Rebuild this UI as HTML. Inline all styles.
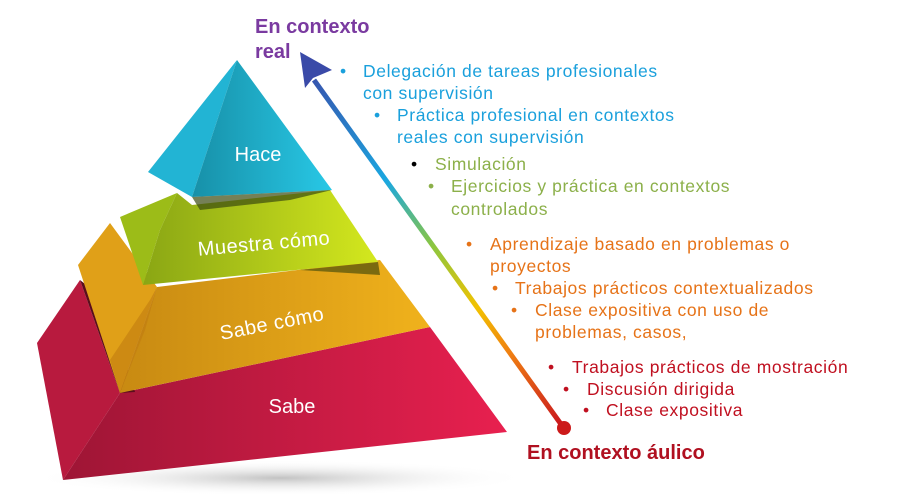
<!DOCTYPE html>
<html><head><meta charset="utf-8"><style>
html,body{margin:0;padding:0;background:#fff;}
svg{display:block;}
text{font-family:"Liberation Sans",sans-serif;}
</style></head><body>
<svg width="907" height="503" viewBox="0 0 907 503" xmlns="http://www.w3.org/2000/svg">
<defs>
<linearGradient id="arr" x1="563" y1="427" x2="303" y2="65" gradientUnits="userSpaceOnUse">
<stop offset="0" stop-color="#c8141e"/><stop offset="0.2" stop-color="#ef7d12"/><stop offset="0.33" stop-color="#f2c200"/><stop offset="0.5" stop-color="#8cc63f"/><stop offset="0.68" stop-color="#1aa7e0"/><stop offset="1" stop-color="#3a4aa8"/>
</linearGradient>
<linearGradient id="red" x1="0" x2="1"><stop offset="0" stop-color="#9e1535"/><stop offset="1" stop-color="#e8204f"/></linearGradient>
<linearGradient id="org" x1="0" x2="1"><stop offset="0" stop-color="#c88a12"/><stop offset="1" stop-color="#f0b21c"/></linearGradient>
<linearGradient id="grn" x1="0" x2="1"><stop offset="0" stop-color="#8aa614"/><stop offset="1" stop-color="#d4e81e"/></linearGradient>
<linearGradient id="blu" x1="0" x2="1"><stop offset="0" stop-color="#1790a8"/><stop offset="1" stop-color="#28c8e6"/></linearGradient>
<radialGradient id="sh" cx="0.5" cy="0.5" r="0.5"><stop offset="0" stop-color="#999" stop-opacity="0.6"/><stop offset="1" stop-color="#fff" stop-opacity="0"/></radialGradient>
</defs>
<ellipse cx="280" cy="478" rx="250" ry="18" fill="url(#sh)"/>
<polygon points="37,343 80,280 120,393 63,480" fill="#b81a3e"/>
<polygon points="120,393 430,327 507,432 63,480" fill="url(#red)"/>
<polygon points="120,393 80,280 105,300 135,392" fill="#5a0d1c"/>
<polygon points="78,265 110,223 157,287 120,393" fill="#e0a018"/>
<polygon points="157,287 380,260 430,327 120,393" fill="url(#org)"/>
<polygon points="120,393 110,360 150,300 157,287 145,330" fill="#c07c10" opacity="0.6"/>
<polygon points="120,217 177,193 160,230 143,285" fill="#9cbc18"/>
<polygon points="177,193 192,205 330,190 378,262 143,285 160,230" fill="url(#grn)"/>
<polygon points="300,270 378,262 380,275" fill="#7a6a10"/>
<polygon points="237,60 148,172 192,197" fill="#22b4d4"/>
<polygon points="237,60 192,197 332,190" fill="url(#blu)"/>
<polygon points="192,197 332,190 290,200 200,210" fill="#3a4a10" opacity="0.7"/>
<text x="258" y="161" fill="#fff" font-size="20" text-anchor="middle">Hace</text>
<text x="264" y="250" fill="#fff" font-size="20" letter-spacing="0.5" text-anchor="middle" transform="rotate(-5 264 244)">Muestra cómo</text>
<text x="272" y="330" fill="#fff" font-size="20" letter-spacing="0.5" text-anchor="middle" transform="rotate(-11 272 324)">Sabe cómo</text>
<text x="292" y="413" fill="#fff" font-size="20" text-anchor="middle">Sabe</text>
<line x1="563" y1="427" x2="314" y2="80" stroke="url(#arr)" stroke-width="5"/>
<polygon points="300,52 332,70 313,78 305,88" fill="#3a4aa8"/>
<circle cx="564" cy="428" r="7" fill="#cc1a1a"/>
<text x="255" y="33" fill="#7a3aa0" font-size="20" font-weight="bold">En contexto</text>
<text x="255" y="58" fill="#7a3aa0" font-size="20" font-weight="bold">real</text>
<text x="527" y="459" fill="#b01020" font-size="20" font-weight="bold">En contexto áulico</text>
<g font-size="17.5" letter-spacing="0.6">
<g fill="#1aa0dc">
<text x="340" y="77">•</text><text x="363" y="77">Delegación de tareas profesionales</text>
<text x="363" y="99">con supervisión</text>
<text x="374" y="121">•</text><text x="397" y="121">Práctica profesional en contextos</text>
<text x="397" y="143">reales con supervisión</text>
</g>
<text x="411" y="170" fill="#000">•</text>
<g fill="#8cb04a">
<text x="435" y="170">Simulación</text>
<text x="428" y="192">•</text><text x="451" y="192">Ejercicios y práctica en contextos</text>
<text x="451" y="215">controlados</text>
</g>
<g fill="#e67318">
<text x="466" y="250">•</text><text x="490" y="250">Aprendizaje basado en problemas o</text>
<text x="490" y="272">proyectos</text>
<text x="492" y="294">•</text><text x="515" y="294">Trabajos prácticos contextualizados</text>
<text x="511" y="316">•</text><text x="535" y="316">Clase expositiva con uso de</text>
<text x="535" y="338">problemas, casos,</text>
</g>
<g fill="#c01020">
<text x="548" y="373">•</text><text x="572" y="373">Trabajos prácticos de mostración</text>
<text x="563" y="395">•</text><text x="587" y="395">Discusión dirigida</text>
<text x="583" y="416">•</text><text x="606" y="416">Clase expositiva</text>
</g>
</g>
</svg>
</body></html>
